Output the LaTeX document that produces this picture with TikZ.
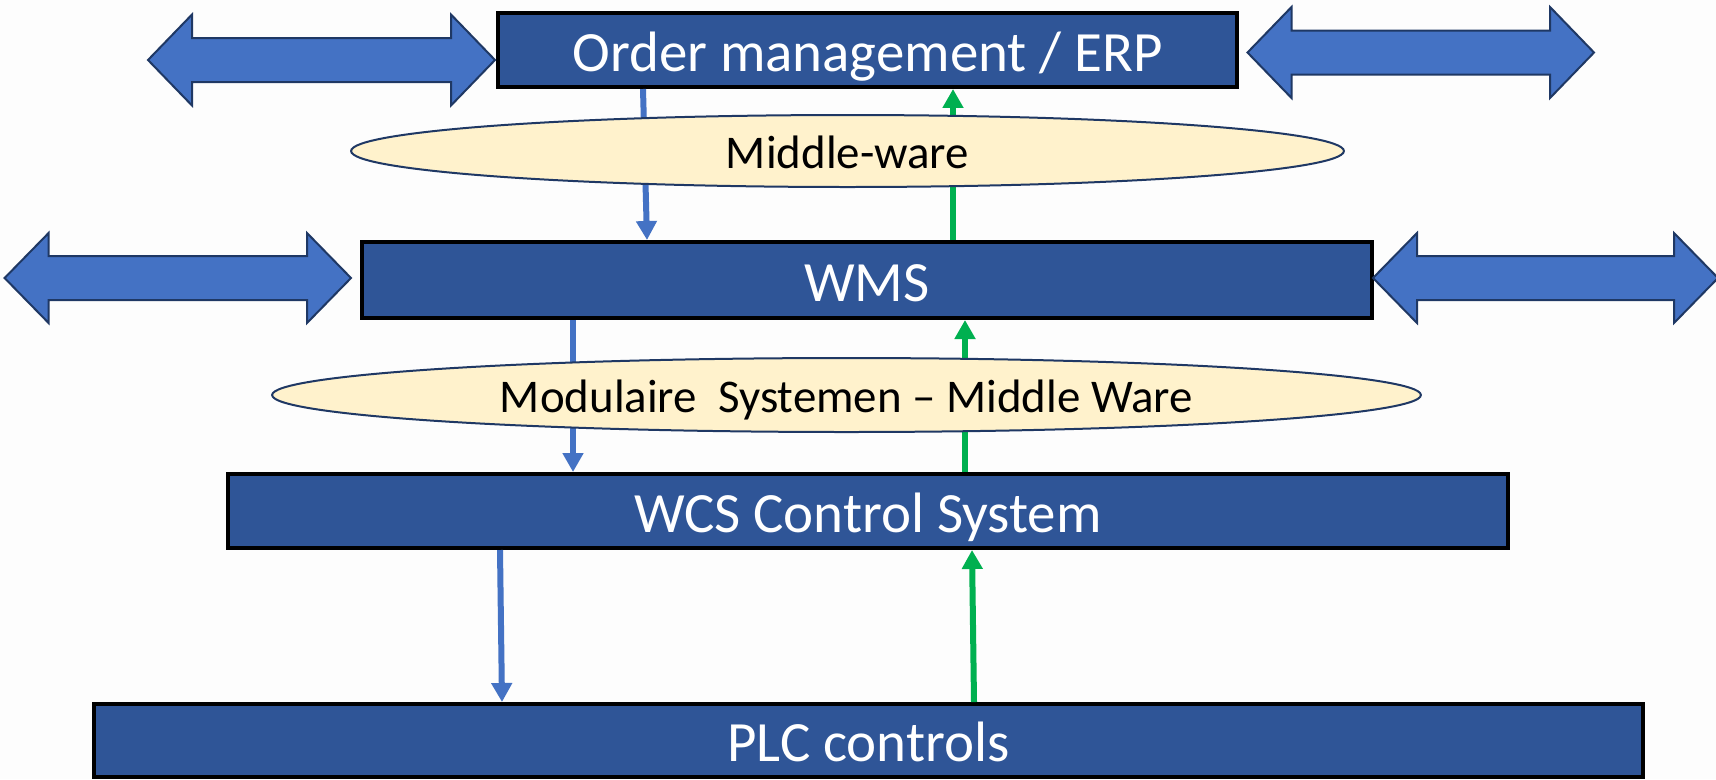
\documentclass[tikz,border=0pt]{standalone}
\usepackage{fontspec}
\setmainfont{Carlito}
\usetikzlibrary{arrows.meta,shapes.geometric}
\definecolor{boxblue}{RGB}{47,85,151}
\definecolor{arrblue}{RGB}{68,114,196}
\definecolor{navy}{RGB}{31,56,100}
\definecolor{cream}{RGB}{255,242,204}
\definecolor{grn}{RGB}{0,176,80}
\definecolor{bg}{RGB}{253,253,253}
\newcommand\dblarr[4]{%
  \path[dblarrow] (#1,#3) -- (#1+44,#3-#4) -- (#1+44,#3-22) -- (#2-44,#3-22)
    -- (#2-44,#3-#4) -- (#2,#3) -- (#2-44,#3+#4) -- (#2-44,#3+22)
    -- (#1+44,#3+22) -- (#1+44,#3+#4) -- cycle;}
\tikzset{
  blk/.style={rectangle, draw=black, fill=boxblue, line width=0.08cm,
    text=white, inner sep=0pt, text height=24pt, text depth=0pt,
    font=\fontsize{32.4}{38}\selectfont},
  mw/.style={ellipse, draw=navy, fill=cream, line width=0.04cm, inner sep=0pt,
    text=black, text height=19.8pt, text depth=0pt,
    font=\fontsize{26.7}{32}\selectfont},
  dblarrow/.style={draw=navy, fill=arrblue, line width=0.04cm, line join=miter},
  down/.style={draw=arrblue, line width=0.12cm, -{Triangle[width=0.4cm,length=0.38cm]}},
  up/.style={draw=grn, line width=0.12cm, -{Triangle[width=0.4cm,length=0.38cm]}},
}
\begin{document}
\begin{tikzpicture}[x=0.02cm, y=-0.02cm]
\fill[bg] (0,0) rectangle (1716,779);
\useasboundingbox (0,0) rectangle (1716,779);

% boxes
\node[blk, minimum width=14.78cm, minimum height=1.48cm] (erp) at (867.5,50) {Order management / ERP};
\node[blk, minimum width=20.19cm, minimum height=1.52cm] (wms) at (867,280) {WMS};
\node[blk, minimum width=25.61cm, minimum height=1.48cm] (wcs) at (868,511) {WCS Control System};
\node[blk, minimum width=30.98cm, minimum height=1.46cm] (plc) at (868.5,740.5) {PLC controls};

% double arrows
\dblarr{148}{495}{60}{45.5}
\dblarr{1247.5}{1594}{52.5}{45.5}
\dblarr{4.6}{351}{278}{45}
\dblarr{1373}{1718}{278}{45}

% connector x positions
\coordinate (b1a) at (643,0);
\coordinate (b1b) at (647,0);
\coordinate (g1) at (953,0);
\coordinate (b2) at (573,0);
\coordinate (g2) at (965,0);
\coordinate (b3a) at (500,0);
\coordinate (b3b) at (502,0);
\coordinate (g3a) at (974,0);
\coordinate (g3b) at (972,0);

\draw[down] (erp.south -| b1a) -- (wms.north -| b1b);
\draw[up] (wms.north -| g1) -- (erp.south -| g1);
\draw[down] (wms.south -| b2) -- (wcs.north -| b2);
\draw[up] (wcs.north -| g2) -- (wms.south -| g2);
\draw[down] (wcs.south -| b3a) -- (plc.north -| b3b);
\draw[up] (plc.north -| g3a) -- (wcs.south -| g3b);

% middleware ellipses
\node[mw, minimum width=19.86cm, minimum height=1.44cm] (mw1) at (847.5,151) {Middle-ware};
\node[mw, minimum width=22.98cm, minimum height=1.48cm] (mw2) at (846.5,395) {Modulaire\ \ Systemen -- Middle Ware};
\end{tikzpicture}
\end{document}
